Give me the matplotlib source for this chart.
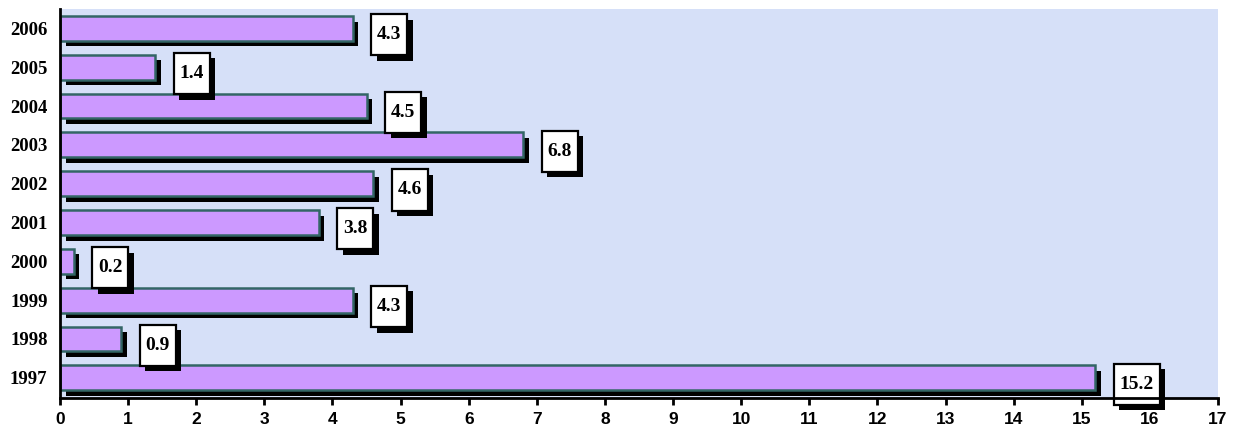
import matplotlib.pyplot as plt
import matplotlib.patheffects as pe
from matplotlib.path import Path

years = ["1997", "1998", "1999", "2000", "2001", "2002", "2003", "2004", "2005", "2006"]
values = [15.2, 0.9, 4.3, 0.2, 3.8, 4.6, 6.8, 4.5, 1.4, 4.3]
xticks = list(range(0, 18))


def tall_box(x0, y0, width, height, mutation_size):
    # box wider padding vertically than horizontally
    px = 0.3 * mutation_size
    py = 0.62 * mutation_size
    x0, y0 = x0 - px, y0 - py
    x1, y1 = x0 + width + 2 * px, y0 + height + 2 * py
    return Path([(x0, y0), (x1, y0), (x1, y1), (x0, y1), (x0, y0)], closed=True)


fig = plt.figure(figsize=(12.35, 4.33), dpi=100)
ax = fig.add_axes([60 / 1235, 35 / 433, 1158 / 1235, 389 / 433])
ax.set_facecolor("#d6e0f8")

shadow = [pe.SimplePatchShadow(offset=(4, -4), shadow_rgbFace="black", alpha=1), pe.Normal()]

pos = list(range(len(years)))
bars = ax.barh(pos, values, height=0.64, color="#cc99ff", edgecolor="#336666", linewidth=1.8, zorder=3)
for b in bars:
    b.set_path_effects(shadow)

for i, v in zip(pos, values):
    t = ax.annotate(f"{v:.1f}", xy=(v, i), xytext=(17.5, -4.5), textcoords="offset points",
                    ha="left", va="center", fontsize=14, fontweight="bold",
                    family="Liberation Serif", zorder=5,
                    bbox=dict(boxstyle=tall_box, facecolor="white", edgecolor="black", linewidth=1.6))
    t.get_bbox_patch().set_path_effects(shadow)

ax.set_xlim(0, 17)
ax.set_ylim(-0.52, 9.5)
ax.set_xticks(xticks)
ax.set_xticklabels([str(x) for x in xticks], fontsize=12.5, fontweight="bold", family="Liberation Sans")
ax.set_yticks(pos)
ax.set_yticklabels(years, fontsize=13.5, fontweight="bold", family="Liberation Serif")
ax.tick_params(axis="x", length=5, width=2, pad=5)
ax.tick_params(axis="y", length=0, pad=9)

for s in ["top", "right"]:
    ax.spines[s].set_visible(False)
for s in ["left", "bottom"]:
    ax.spines[s].set_linewidth(2)
    ax.spines[s].set_zorder(6)

fig.savefig("out.png", dpi=100)
